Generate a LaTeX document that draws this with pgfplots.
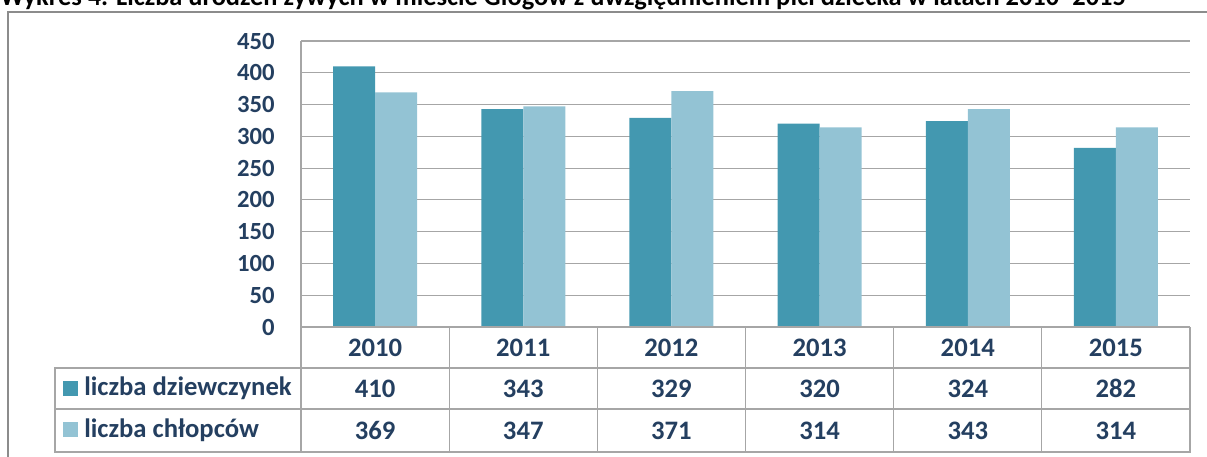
\documentclass[border=0pt]{standalone}
\usepackage{fontspec}
\setmainfont{Carlito}
\usepackage{pgfplots}
\pgfplotsset{compat=1.18}

\definecolor{dziew}{HTML}{4398B0}
\definecolor{chlop}{HTML}{93C3D4}
\definecolor{txt}{HTML}{243F60}
\definecolor{siatka}{HTML}{A6A6A6}
\definecolor{ramka}{HTML}{8C8C8C}

\newcommand\tfont{\fontsize{20}{22}\selectfont\bfseries}
\newcommand\yfont{\fontsize{18.5}{20}\selectfont\bfseries}

\begin{document}
\begin{tikzpicture}
% 1 px of the reference = 0.75pt, y downwards
\begin{scope}[x=0.75pt,y=-0.75pt]
  \path[use as bounding box] (0,0) rectangle (1207,457);
  \node[anchor=base west, inner sep=0pt, font=\fontsize{19.8}{22}\selectfont\bfseries]
    at (0,5) {Wykres 4. Liczba urodzeń żywych w mieście Głogów z uwzględnieniem płci dziecka w latach 2010–2015};
  \draw[ramka, line width=1.5pt] (8,480) -- (8,12) -- (1220,12);
\end{scope}

\begin{axis}[
    at={(225.75pt,-245.25pt)}, anchor=south west,
    scale only axis,
    width=666.75pt, height=214.5pt,
    ybar=0pt, bar width=31.5pt,
    xmin=-0.5, xmax=5.5,
    ymin=0, ymax=450,
    ytick={0,50,...,450},
    xtick=\empty,
    axis line style={draw=none},
    major tick length=0pt,
    ymajorgrids=true,
    grid style={siatka, line width=0.9pt},
    yticklabel style={font=\yfont, text=txt, inner sep=0pt, xshift=-19.5pt},
    /pgf/number format/assume math mode=true,
    clip=false,
]
  \addplot[fill=dziew, draw=none] coordinates {(0,410) (1,343) (2,329) (3,320) (4,324) (5,282)};
  \addplot[fill=chlop, draw=none] coordinates {(0,369) (1,347) (2,371) (3,314) (4,343) (5,314)};
\end{axis}

\begin{scope}[x=0.75pt,y=-0.75pt]
  % data table under the plot
  \draw[siatka, line width=0.9pt] (301,41) -- (301,452);
  \draw[siatka, line width=0.9pt] (301,327) -- (1190,327);
  \draw[siatka, line width=0.9pt] (55,368) rectangle (1190,452);
  \draw[siatka, line width=0.9pt] (55,409) -- (1190,409);
  \foreach \k in {1,...,6}
    \draw[siatka, line width=0.9pt] ({301+148.17*\k},327) -- ({301+148.17*\k},452);
  \foreach \y [count=\i from 0] in {2010,2011,2012,2013,2014,2015}
    \node[font=\tfont, text=txt] at ({301+148.17*(\i+0.5)},347.5) {\y};
  \foreach \v [count=\i from 0] in {410,343,329,320,324,282}
    \node[font=\tfont, text=txt] at ({301+148.17*(\i+0.5)},388.5) {\v};
  \foreach \v [count=\i from 0] in {369,347,371,314,343,314}
    \node[font=\tfont, text=txt] at ({301+148.17*(\i+0.5)},430.5) {\v};
  \fill[dziew] (63,381) rectangle (78,396);
  \fill[chlop] (63,422) rectangle (78,437);
  \node[anchor=west, inner sep=0pt, font=\tfont, text=txt] at (84,388.5) {liczba dziewczynek};
  \node[anchor=west, inner sep=0pt, font=\tfont, text=txt] at (84,430.5) {liczba chłopców};
\end{scope}
\end{tikzpicture}
\end{document}
